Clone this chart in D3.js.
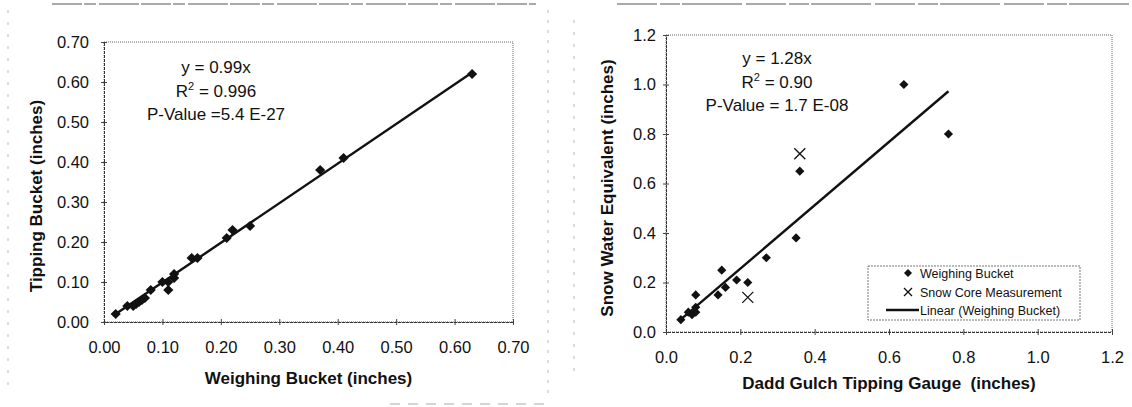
<!DOCTYPE html>
<html>
<head>
<meta charset="utf-8">
<script src="https://cdn.jsdelivr.net/npm/d3@7"></script>
<style>
  body { margin: 0; background: #fff; }
  svg { display: block; font-family: Arial, "Liberation Sans", sans-serif; }
</style>
</head>
<body>
<svg id="viz" width="1132" height="407"></svg>
<script>
// left chart: weighing bucket vs tipping bucket
const weighingBucket = [0.02, 0.04, 0.05, 0.055, 0.06, 0.065, 0.07, 0.08, 0.10, 0.11, 0.11, 0.12, 0.12, 0.15, 0.16, 0.21, 0.22, 0.25, 0.37, 0.41, 0.63];
const tippingBucket  = [0.02, 0.04, 0.04, 0.045, 0.05, 0.055, 0.06, 0.08, 0.10, 0.08, 0.10, 0.11, 0.12, 0.16, 0.16, 0.21, 0.23, 0.24, 0.38, 0.41, 0.62];
const leftTicks = [0, 0.1, 0.2, 0.3, 0.4, 0.5, 0.6, 0.7];
const leftSlope = 0.99;
const leftFitRange = [0.02, 0.63];
const leftNotes = ["y = 0.99x", "0.996", "P-Value =5.4 E-27"];

// right chart: Dadd Gulch tipping gauge vs snow water equivalent
const daddGauge     = [0.04, 0.06, 0.07, 0.08, 0.08, 0.08, 0.14, 0.15, 0.16, 0.19, 0.22, 0.27, 0.35, 0.36, 0.64, 0.76];
const weighingSWE   = [0.05, 0.08, 0.07, 0.10, 0.08, 0.15, 0.15, 0.25, 0.18, 0.21, 0.20, 0.30, 0.38, 0.65, 1.00, 0.80];
const coreGauge = [0.22, 0.36];
const coreSWE   = [0.14, 0.72];
const rightTicks = [0, 0.2, 0.4, 0.6, 0.8, 1.0, 1.2];
const rightSlope = 1.28;
const rightFitRange = [0.04, 0.76];
const rightNotes = ["y = 1.28x", "0.90", "P-Value = 1.7 E-08"];
const legendLabels = ["Weighing Bucket", "Snow Core Measurement", "Linear (Weighing Bucket)"];

const svg = d3.select("#viz");
const ink = "#111";

// faint scanned chart frames
function frame(pts, color, dash) {
  svg.append("path")
    .attr("d", d3.line()(pts))
    .attr("fill", "none")
    .attr("stroke", color)
    .attr("stroke-width", 1)
    .attr("stroke-dasharray", dash);
}
frame([[52, 4], [536, 4]], "#555", "30,2,12,3,40,2");
frame([[8, 10], [8, 392]], "#bbb", "3,9");
frame([[548, 10], [548, 400]], "#bbb", "3,7");
frame([[390, 404], [546, 404]], "#aaa", "10,8");
frame([[617, 4], [1132, 4]], "#555", "40,3,20,2,60,4");
frame([[574, 20], [574, 380]], "#bbb", "3,9");

function drawPanel(cfg) {
  const x = d3.scaleLinear().domain([0, cfg.max]).range([cfg.box.left, cfg.box.right]);
  const y = d3.scaleLinear().domain([0, cfg.max]).range([cfg.box.bottom, cfg.box.top]);
  const g = svg.append("g");

  // plot area border (dotted)
  g.append("rect")
    .attr("x", cfg.box.left).attr("y", cfg.box.top)
    .attr("width", cfg.box.right - cfg.box.left)
    .attr("height", cfg.box.bottom - cfg.box.top)
    .attr("fill", "none")
    .attr("stroke", "#666")
    .attr("stroke-dasharray", "1,1");

  const xAxis = g.append("g")
    .attr("transform", `translate(0,${cfg.box.bottom})`)
    .call(d3.axisBottom(x).tickValues(cfg.ticks).tickFormat(d3.format(cfg.fmt)).tickSize(3).tickPadding(16));
  const yAxis = g.append("g")
    .attr("transform", `translate(${cfg.box.left},0)`)
    .call(d3.axisLeft(y).tickValues(cfg.ticks).tickFormat(d3.format(cfg.fmt)).tickSize(3).tickPadding(cfg.yPad));

  [xAxis, yAxis].forEach(ax => {
    ax.select(".domain").attr("stroke", "#333").attr("stroke-dasharray", "3,1");
    ax.selectAll(".tick line").attr("stroke", "#444");
    ax.selectAll(".tick text").attr("font-size", 16.5).attr("fill", ink)
      .attr("font-family", "Arial, 'Liberation Sans', sans-serif");
  });
  xAxis.selectAll(".tick line").attr("y1", -3);
  yAxis.selectAll(".tick line").attr("x1", 3);

  // trend line
  g.append("path")
    .attr("d", d3.line()(cfg.fitRange.map(v => [x(v), y(v * cfg.slope)])))
    .attr("stroke", ink)
    .attr("stroke-width", 2.4)
    .attr("fill", "none");

  // diamonds
  g.selectAll(".pt")
    .data(cfg.xs.map((v, i) => [v, cfg.ys[i]]))
    .join("path")
    .attr("d", d3.symbol(d3.symbolSquare, cfg.markSize)())
    .attr("transform", d => `translate(${x(d[0])},${y(d[1])}) rotate(45)`)
    .attr("fill", ink);

  // crosses
  if (cfg.crossX) {
    g.selectAll(".cross")
      .data(cfg.crossX.map((v, i) => [v, cfg.crossY[i]]))
      .join("path")
      .attr("d", "M-5.5,-5.5L5.5,5.5M-5.5,5.5L5.5,-5.5")
      .attr("transform", d => `translate(${x(d[0])},${y(d[1])})`)
      .attr("stroke", ink)
      .attr("stroke-width", 1.3)
      .attr("fill", "none");
  }

  // regression notes
  const notes = g.append("g").attr("font-size", 17).attr("fill", ink).attr("text-anchor", "middle");
  notes.append("text").attr("x", cfg.noteX).attr("y", cfg.noteY).text(cfg.notes[0]);
  const r2 = notes.append("text").attr("x", cfg.noteX).attr("y", cfg.noteY + 24);
  r2.append("tspan").text("R");
  r2.append("tspan").attr("dy", -7).attr("font-size", 11).text("2");
  r2.append("tspan").attr("dy", 7).text(" = " + cfg.notes[1]);
  notes.append("text").attr("x", cfg.noteX).attr("y", cfg.noteY + 47).text(cfg.notes[2]);

  // axis titles
  g.append("text")
    .attr("x", (cfg.box.left + cfg.box.right) / 2)
    .attr("y", cfg.xTitleY)
    .attr("text-anchor", "middle")
    .attr("font-weight", "bold")
    .attr("font-size", 17)
    .attr("fill", ink)
    .attr("xml:space", "preserve")
    .text(cfg.xTitle);
  g.append("text")
    .attr("transform", `translate(${cfg.yTitleX},${cfg.yTitleMid}) rotate(-90)`)
    .attr("text-anchor", "middle")
    .attr("font-weight", "bold")
    .attr("font-size", 17)
    .attr("fill", ink)
    .text(cfg.yTitle);
}

drawPanel({
  box: { left: 104, right: 513, top: 42, bottom: 322 },
  max: 0.7, ticks: leftTicks, fmt: ".2f", yPad: 12,
  xs: weighingBucket, ys: tippingBucket, markSize: 52,
  slope: leftSlope, fitRange: leftFitRange,
  notes: leftNotes, noteX: 216, noteY: 73,
  xTitle: "Weighing Bucket (inches)", xTitleY: 384,
  yTitle: "Tipping Bucket (inches)", yTitleX: 42, yTitleMid: 196
});

drawPanel({
  box: { left: 666, right: 1112, top: 35, bottom: 332 },
  max: 1.2, ticks: rightTicks, fmt: ".1f", yPad: 7,
  xs: daddGauge, ys: weighingSWE, markSize: 42,
  crossX: coreGauge, crossY: coreSWE,
  slope: rightSlope, fitRange: rightFitRange,
  notes: rightNotes, noteX: 777, noteY: 64,
  xTitle: "Dadd Gulch Tipping Gauge  (inches)", xTitleY: 389,
  yTitle: "Snow Water Equivalent (inches)", yTitleX: 613, yTitleMid: 188
});

// legend
const legend = svg.append("g").attr("font-size", 12.5).attr("fill", ink);
legend.append("rect")
  .attr("x", 868).attr("y", 266).attr("width", 212).attr("height", 54)
  .attr("fill", "#fff").attr("stroke", "#777").attr("stroke-dasharray", "2,1");
const rowY = [273, 292, 310];
legend.append("path")
  .attr("d", d3.symbol(d3.symbolSquare, 32)())
  .attr("transform", `translate(908,${rowY[0]}) rotate(45)`)
  .attr("fill", ink);
legend.append("path")
  .attr("d", "M-4,-4L4,4M-4,4L4,-4")
  .attr("transform", `translate(908,${rowY[1]})`)
  .attr("stroke", ink).attr("stroke-width", 1.3);
legend.append("line")
  .attr("x1", 886).attr("x2", 919).attr("y1", rowY[2]).attr("y2", rowY[2])
  .attr("stroke", ink).attr("stroke-width", 2.4);
legend.selectAll(".lbl")
  .data(legendLabels)
  .join("text")
  .attr("x", 920)
  .attr("y", (d, i) => rowY[i] + 4.5)
  .text(d => d);
</script>
</body>
</html>
